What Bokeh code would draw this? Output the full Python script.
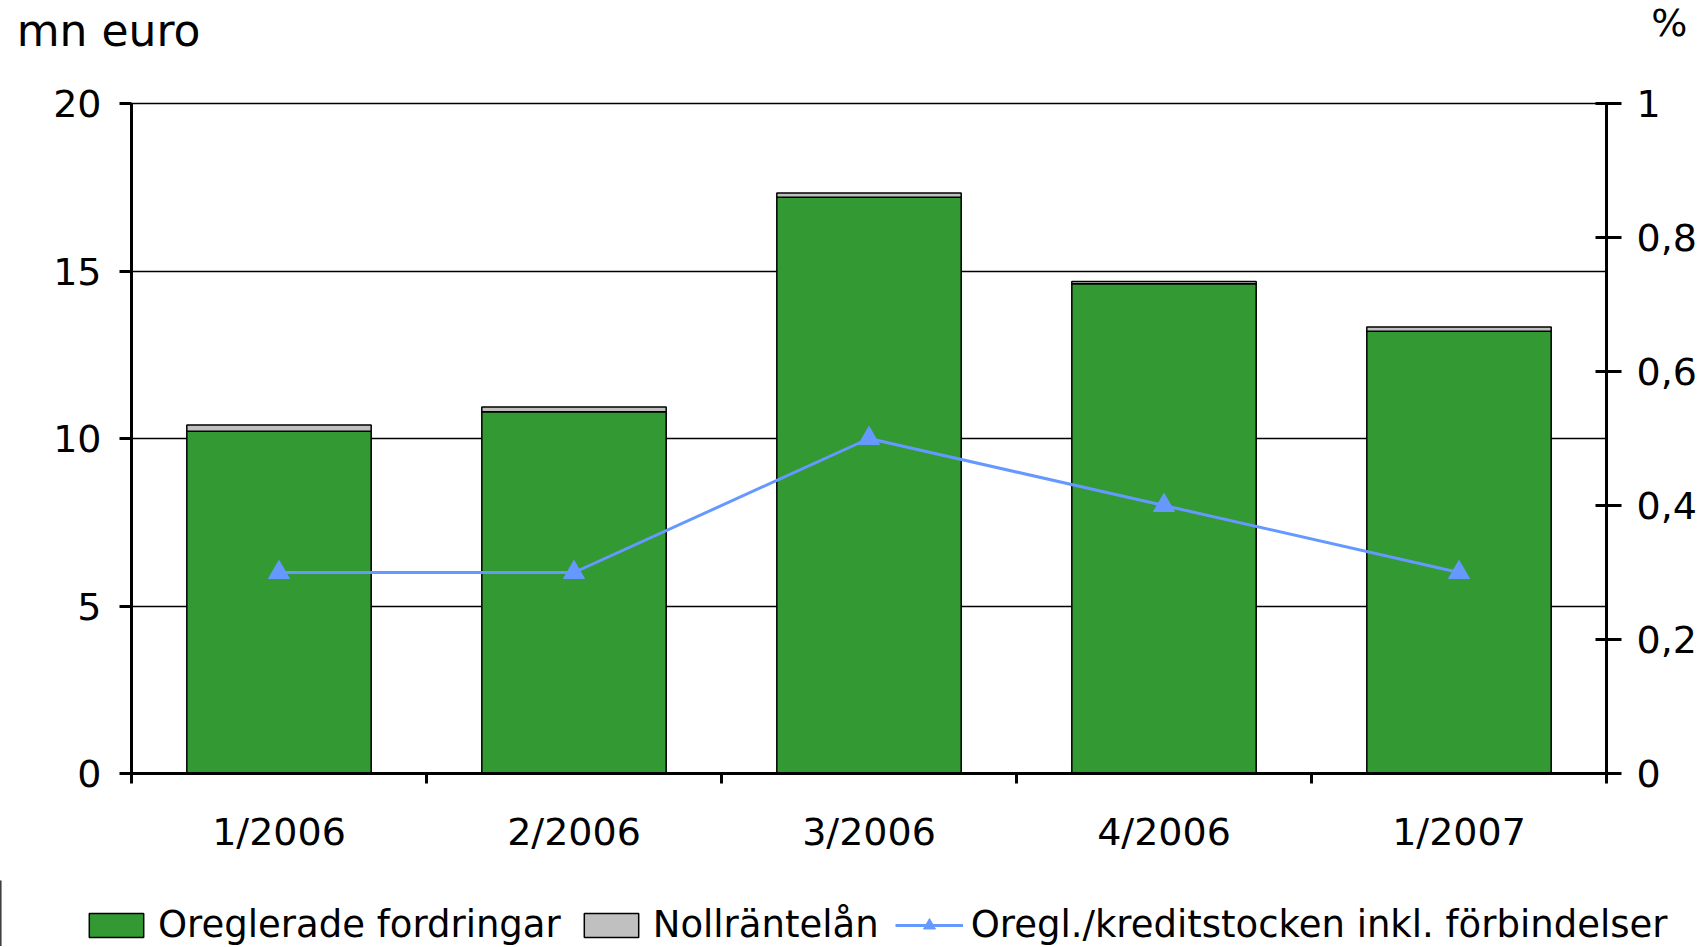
from bokeh.plotting import figure
from bokeh.models import (Range1d, LinearAxis, FixedTicker, CustomJSTickFormatter,
                          Legend, LegendItem, Label, ColumnDataSource)
from bokeh.embed import file_html
from bokeh.resources import INLINE

categories = ["1/2006", "2/2006", "3/2006", "4/2006", "1/2007"]
oreglerade = [10.22, 10.8, 17.2, 14.62, 13.2]
nollrantelan = [0.18, 0.14, 0.13, 0.07, 0.13]
oregl_pct = [0.3, 0.3, 0.5, 0.4, 0.3]
left_ticks = [0, 5, 10, 15, 20]
right_ticks = [0, 0.2, 0.4, 0.6, 0.8, 1]
series_names = ["Oreglerade fordringar", "Nollräntelån",
                "Oregl./kreditstocken inkl. förbindelser"]

FONT = "DejaVu Sans"
FS = "38px"
GREEN = "#339933"
GREY = "#c0c0c0"
BLUE = "#6699ff"

xc = [i + 0.5 for i in range(len(categories))]
tops2 = [a + b for a, b in zip(oreglerade, nollrantelan)]
src = ColumnDataSource(dict(x=xc, g=oreglerade, b2=oreglerade, t2=tops2, pct=oregl_pct))

p = figure(frame_width=1475, frame_height=670, output_backend="svg", toolbar_location=None,
           x_range=Range1d(0, len(categories)), y_range=Range1d(0, 20),
           min_border_left=131, min_border_right=94, min_border_top=103,
           min_border_bottom=107)
p.outline_line_color = "black"
p.outline_line_width = 1.5
p.background_fill_color = "white"
p.border_fill_color = "white"
p.extra_y_ranges = {"pct": Range1d(0, 1)}

p.vbar(x="x", top="g", bottom=0, width=0.625, source=src, fill_color=GREEN,
       line_color="black", line_width=1.5)
p.vbar(x="x", top="t2", bottom="b2", width=0.625, source=src, fill_color=GREY,
       line_color="black", line_width=1.5)
p.line(x="x", y="pct", source=src, y_range_name="pct", line_color=BLUE, line_width=3)
p.scatter(x="x", y="pct", source=src, y_range_name="pct", marker="triangle",
          size=21, fill_color=BLUE, line_color=BLUE)

# grid
p.xgrid.visible = False
p.ygrid.ticker = FixedTicker(ticks=left_ticks)
p.ygrid.grid_line_color = "black"
p.ygrid.grid_line_width = 1.5

# left axis
ya = p.yaxis[0]
ya.ticker = FixedTicker(ticks=left_ticks)
ya.axis_line_width = 3
ya.major_tick_line_width = 3
ya.major_tick_out = 12
ya.major_tick_in = 0
ya.minor_tick_line_color = None
ya.major_label_text_font = FONT
ya.major_label_text_font_size = FS
ya.major_label_text_color = "black"
ya.major_label_standoff = 18

# right axis
ra = LinearAxis(y_range_name="pct", ticker=FixedTicker(ticks=right_ticks))
ra.formatter = CustomJSTickFormatter(code="""
    if (Math.abs(tick - Math.round(tick)) < 1e-9) return tick.toFixed(0);
    return tick.toFixed(1).replace('.', ',');
""")
ra.axis_line_width = 3
ra.major_tick_line_width = 3
ra.major_tick_out = 15
ra.major_tick_in = 11
ra.minor_tick_line_color = None
ra.major_label_text_font = FONT
ra.major_label_text_font_size = FS
ra.major_label_text_color = "black"
ra.major_label_standoff = 15
p.add_layout(ra, "right")

# x axis
xa = p.xaxis[0]
xa.ticker = FixedTicker(ticks=xc, minor_ticks=list(range(len(categories) + 1)))
xa.formatter = CustomJSTickFormatter(args=dict(labels=categories),
                                     code="return labels[Math.floor(tick)];")
xa.axis_line_width = 3
xa.major_tick_line_color = None
xa.major_tick_out = 0
xa.major_tick_in = 0
xa.minor_tick_line_width = 3
xa.minor_tick_out = 10
xa.minor_tick_in = 0
xa.major_label_standoff = 26
xa.major_label_text_font = FONT
xa.major_label_text_font_size = FS
xa.major_label_text_color = "black"

# unit labels, in the panel above the frame (placed with the frame's scales)
p.add_layout(Label(x=-0.389, y=22.18, text="mn euro",
                   text_font=FONT, text_font_size="44px", text_baseline="alphabetic",
                   text_align="left", text_color="black"), "above")
p.add_layout(Label(x=5.2125, y=22.39, text="%",
                   text_font=FONT, text_font_size="38px", text_baseline="alphabetic",
                   text_align="center", text_color="black"), "above")

# legend strip below the chart (its sample glyphs lie outside its visible range)
lf = figure(width=1700, height=66, output_backend="svg", toolbar_location=None,
            x_range=Range1d(0, 1), y_range=Range1d(0, 1),
            x_axis_type=None, y_axis_type=None, min_border=0,
            min_border_left=0, min_border_right=0, min_border_top=0, min_border_bottom=0)
lf.outline_line_color = None
lf.background_fill_color = "white"
lf.border_fill_color = "white"
lf.grid.visible = False
k1 = lf.vbar(x=[-5], top=[1], width=0.5, fill_color=GREEN, line_color="black", line_width=1.5)
k2 = lf.vbar(x=[-5], top=[1], width=0.5, fill_color=GREY, line_color="black", line_width=1.5)
k3 = lf.line(x=[-5, -4], y=[0, 0], line_color=BLUE, line_width=3)
k4 = lf.scatter(x=[-5], y=[0], marker="triangle", size=21, fill_color=BLUE, line_color=BLUE)

legend = Legend(items=[
    LegendItem(label=series_names[0], renderers=[k1]),
    LegendItem(label=series_names[1], renderers=[k2]),
    LegendItem(label=series_names[2], renderers=[k3, k4]),
], orientation="horizontal", location=(82, 0))
legend.label_text_font = FONT
legend.label_text_font_size = "37px"
legend.label_text_color = "black"
legend.glyph_width = 68
legend.glyph_height = 30
legend.label_standoff = 8
legend.spacing = 16
legend.padding = 0
legend.margin = 0
legend.border_line_color = None
legend.background_fill_alpha = 0
lf.add_layout(legend, "center")

open("out.html", "w").write(file_html([p, lf], INLINE))
